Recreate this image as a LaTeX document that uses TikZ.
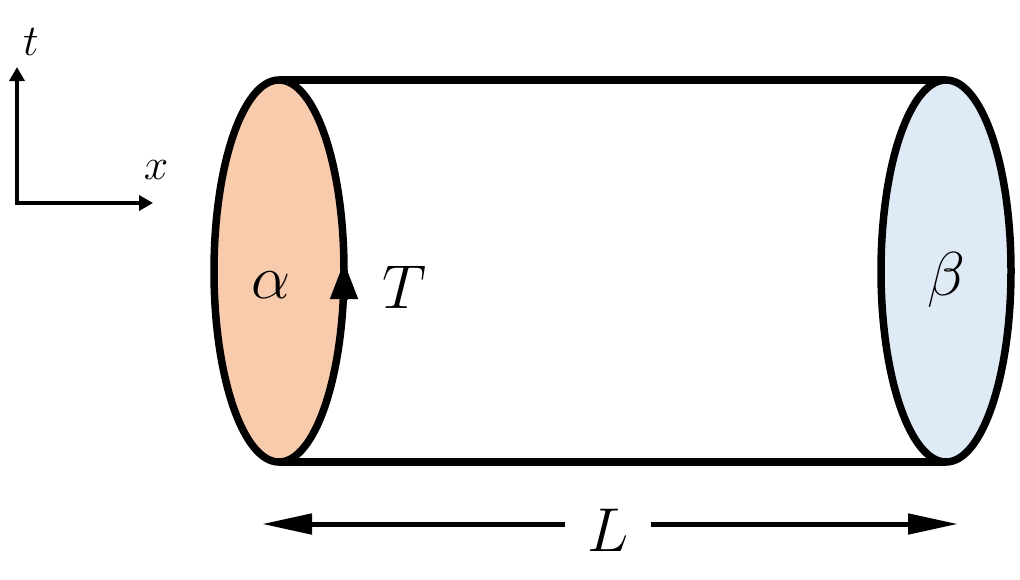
\documentclass[tikz,border=0pt]{standalone}
\usepackage{fix-cm}
\usetikzlibrary{arrows.meta,shapes.geometric}
\definecolor{peach}{HTML}{F8CBAD}
\definecolor{paleblue}{HTML}{DEEAF6}
\tikzset{
  disc/.style={ellipse, draw=black, line width=7.5pt, minimum width=130pt, minimum height=382pt, inner sep=0pt, outer sep=0pt},
  rim/.style={line width=7.5pt},
  axis/.style={line width=4pt, {Triangle[length=14pt,width=15pt]}-{Triangle[length=14pt,width=15pt]}},
  biglabel/.style={inner sep=0pt, font=\fontsize{62}{70}\selectfont},
  smalllabel/.style={inner sep=0pt, font=\fontsize{44}{50}\selectfont},
  dimline/.style={line width=5pt, -{Triangle[length=50pt,width=20pt]}}
}
\begin{document}
\begin{tikzpicture}[x=1pt,y=-1pt]
\useasboundingbox (0,0) rectangle (1020,579);
% axes
\coordinate (O) at (17,203);
\coordinate (tt) at (17,67);
\coordinate (xx) at (153,203);
\draw[axis] (tt) -- (O) -- (xx);
\node[smalllabel] (tlab) at (31,42) {$t$};
\node[smalllabel] (xlab) at (156,170) {$x$};
% cylinder
\node[disc, fill=peach] (A) at (279,271) {};
\node[disc, fill=paleblue] (B) at (946,271) {};
\draw[rim] (A.north) -- (B.north);
\draw[rim] (A.south) -- (B.south);
% orientation arrow
\draw[line width=7.5pt, -{Triangle[length=38pt,width=26pt]}] ([yshift=-29pt]A.east) -- ([yshift=10pt]A.east);
\node[biglabel] (Tlab) at (405,287) {$T$};
\node[biglabel] (alab) at (271,285) {$\alpha$};
\node[biglabel] (blab) at (946,280) {$\beta$};
% length
\node[biglabel, minimum width=86pt] (L) at (608,530) {$L$};
\coordinate (Ll) at (262,524);
\coordinate (Lr) at (958,524);
\draw[dimline] (L.west |- Ll) -- (Ll);
\draw[dimline] (L.east |- Lr) -- (Lr);
\end{tikzpicture}
\end{document}
